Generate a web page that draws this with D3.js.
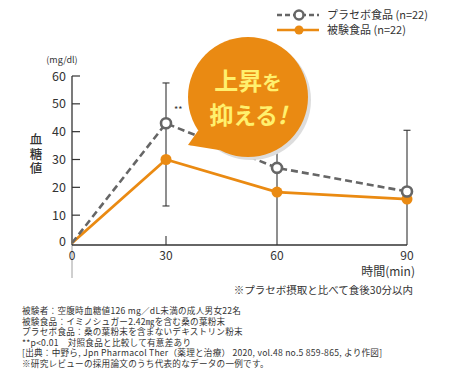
<!DOCTYPE html>
<html><head><meta charset="utf-8">
<script src="https://cdn.jsdelivr.net/npm/d3@7"></script>
<style>
body{margin:0;background:#fff;}
svg{display:block;font-family:"Noto Sans CJK JP","Noto Sans",sans-serif;}
</style></head>
<body>
<svg id="c" width="450" height="380"></svg>
<script>
const times = [0, 30, 60, 90];
const xTickLabels = ["0", "30", "60", "90"];
const yTicks = [0, 10, 20, 30, 40, 50, 60];
const placebo = [0, 43, 27, 18.5];
const test = [0, 30, 18.3, 15.8];
const placeboUpper = [null, 57.5, 38, 40.5];
const testLower = [null, 13.3, 0, 0];
const seriesNames = ["プラセボ食品 (n=22)", "被験食品 (n=22)"];
const notes = [
  "被験者：空腹時血糖値126 mg／dL未満の成人男女22名",
  "被験食品：イミノシュガー2.42㎎を含む桑の葉粉末",
  "プラセボ食品：桑の葉粉末を含まないデキストリン粉末",
  "**p<0.01　対照食品と比較して有意差あり",
  "[出典：中野ら, Jpn Pharmacol Ther（薬理と治療） 2020, vol.48 no.5 859-865, より作図]",
  "※研究レビューの採用論文のうち代表的なデータの一例です。"
];

const orange = "#EA8A12";
const grey = "#666666";
const axisCol = "#333";
const svg = d3.select("#c");

const x = d3.scaleLinear().domain(times).range([72, 166, 277, 407]);
const y = d3.scaleLinear().domain([0, 60]).range([243, 76]);
const axisY = 245;

// y axis
svg.append("line").attr("x1", x(0)).attr("x2", x(0)).attr("y1", y(60)).attr("y2", axisY)
  .attr("stroke", axisCol).attr("stroke-width", 1.3);
svg.append("line").attr("x1", x(0)).attr("x2", x(0)).attr("y1", axisY).attr("y2", 278)
  .attr("stroke", "#888").attr("stroke-width", 0.8);
svg.selectAll(".ytick").data(yTicks.filter(d => d > 0)).join("line")
  .attr("x1", x(0)).attr("x2", x(0) + 8).attr("y1", d => y(d)).attr("y2", d => y(d))
  .attr("stroke", axisCol).attr("stroke-width", 1.2);
svg.selectAll(".ylab").data(yTicks).join("text")
  .attr("x", 66).attr("y", d => d === 0 ? y(d) - 2 : y(d)).attr("dy", "0.36em")
  .attr("text-anchor", "end").attr("font-size", 12.5).attr("fill", axisCol).text(d => d);
svg.append("text").attr("x", 62).attr("y", 63).attr("text-anchor", "middle")
  .attr("font-size", 9).attr("fill", axisCol).text("(mg/dl)");
svg.append("text").attr("x", 36).attr("y", 133)
  .attr("writing-mode", "vertical-rl").attr("letter-spacing", 2)
  .attr("font-size", 12.5).attr("font-weight", 500).attr("fill", axisCol).text("血糖値");

// x axis
svg.append("line").attr("x1", x(0)).attr("x2", x(90)).attr("y1", axisY).attr("y2", axisY)
  .attr("stroke", axisCol).attr("stroke-width", 1.3);
svg.append("line").attr("x1", x(30)).attr("x2", x(30)).attr("y1", axisY - 9).attr("y2", axisY)
  .attr("stroke", axisCol).attr("stroke-width", 1.1);
svg.selectAll(".xlab").data(times).join("text")
  .attr("x", d => x(d)).attr("y", 260).attr("text-anchor", "middle")
  .attr("font-size", 12).attr("fill", axisCol).text((d, i) => xTickLabels[i]);
svg.append("text").attr("x", 415).attr("y", 276).attr("text-anchor", "end")
  .attr("font-size", 12).attr("fill", axisCol).text("時間(min)");

// error bars
function ebar(t, v1, v2, capTop, capBot) {
  svg.append("line").attr("x1", x(t)).attr("x2", x(t)).attr("y1", y(v1)).attr("y2", v2 === 0 ? axisY : y(v2))
    .attr("stroke", axisCol).attr("stroke-width", 1.1);
  if (capTop) svg.append("line").attr("x1", x(t) - 3.5).attr("x2", x(t) + 3.5).attr("y1", y(v1)).attr("y2", y(v1))
    .attr("stroke", axisCol).attr("stroke-width", 1.1);
  if (capBot) svg.append("line").attr("x1", x(t) - 3.5).attr("x2", x(t) + 3.5).attr("y1", y(v2)).attr("y2", y(v2))
    .attr("stroke", axisCol).attr("stroke-width", 1.1);
}
times.forEach((t, i) => {
  if (placeboUpper[i] === null) return;
  ebar(t, placeboUpper[i], testLower[i], true, testLower[i] > 0);
});
svg.append("text").attr("x", x(30) + 8).attr("y", y(placebo[1]) - 10).attr("font-size", 9)
  .attr("fill", axisCol).text("**");

// lines
const line = d3.line().x((d, i) => x(times[i])).y(d => y(d));
svg.append("path").datum(test).attr("d", line).attr("fill", "none")
  .attr("stroke", orange).attr("stroke-width", 2.8);
svg.append("path").datum(placebo).attr("d", line).attr("fill", "none")
  .attr("stroke", grey).attr("stroke-width", 2.6).attr("stroke-dasharray", "7,4");
svg.selectAll(".tp").data(test.slice(1)).join("circle")
  .attr("cx", (d, i) => x(times[i + 1])).attr("cy", d => y(d)).attr("r", 5.5).attr("fill", orange);
svg.selectAll(".pp").data(placebo.slice(1)).join("circle")
  .attr("cx", (d, i) => x(times[i + 1])).attr("cy", d => y(d)).attr("r", 5)
  .attr("fill", "#fff").attr("stroke", grey).attr("stroke-width", 2.6);

// bubble
const bx = 248, by = 97, br = 60;
const bubble = `M ${bx + br * Math.cos(2.55)} ${by + br * Math.sin(2.55)} L 188 145 L ${bx + br * Math.cos(2.05)} ${by + br * Math.sin(2.05)} Z`;
svg.append("circle").attr("cx", bx + 3).attr("cy", by + 3).attr("r", br).attr("fill", "#ddd");
svg.append("path").attr("d", `M 190 146 L 212 142 L 200 128 Z`).attr("fill", "#ddd");
svg.append("circle").attr("cx", bx).attr("cy", by).attr("r", br).attr("fill", orange);
svg.append("path").attr("d", bubble).attr("fill", orange);
const yellow = "#FFF06E";
const bt1 = svg.append("text").attr("x", bx).attr("y", 90).attr("text-anchor", "middle")
  .attr("fill", yellow).attr("font-weight", 700);
bt1.append("tspan").attr("font-size", 24).text("上昇");
bt1.append("tspan").attr("font-size", 19.5).text("を");
const bt2 = svg.append("text").attr("x", bx).attr("y", 124).attr("text-anchor", "middle")
  .attr("fill", yellow).attr("font-weight", 700);
bt2.append("tspan").attr("font-size", 24).text("抑");
bt2.append("tspan").attr("font-size", 22.5).text("える");
bt2.append("tspan").attr("font-size", 24).attr("font-style", "italic").text("!");

// legend
svg.append("line").attr("x1", 277).attr("x2", 319).attr("y1", 15).attr("y2", 15)
  .attr("stroke", grey).attr("stroke-width", 2.5).attr("stroke-dasharray", "5,3");
svg.append("circle").attr("cx", 299).attr("cy", 15).attr("r", 4.5).attr("fill", "#fff")
  .attr("stroke", grey).attr("stroke-width", 2.5);
svg.append("line").attr("x1", 277).attr("x2", 319).attr("y1", 30).attr("y2", 30)
  .attr("stroke", orange).attr("stroke-width", 2.5);
svg.append("circle").attr("cx", 299).attr("cy", 30).attr("r", 4.5).attr("fill", orange);
seriesNames.forEach((s, i) => {
  svg.append("text").attr("x", 327).attr("y", 15 + i * 15).attr("dy", "0.36em")
    .attr("font-size", 11).attr("fill", axisCol).text(s);
});

// notes
svg.append("text").attr("x", 413).attr("y", 290).attr("dy", "0.36em").attr("text-anchor", "end")
  .attr("font-size", 10.5).attr("fill", axisCol).text("※プラセボ摂取と比べて食後30分以内");
notes.forEach((n, i) => {
  svg.append("text").attr("x", 22).attr("y", 311 + i * 10.5).attr("dy", "0.36em")
    .attr("font-size", 8.6).attr("letter-spacing", 0.25).attr("fill", axisCol).text(n);
});
</script>
</body></html>
